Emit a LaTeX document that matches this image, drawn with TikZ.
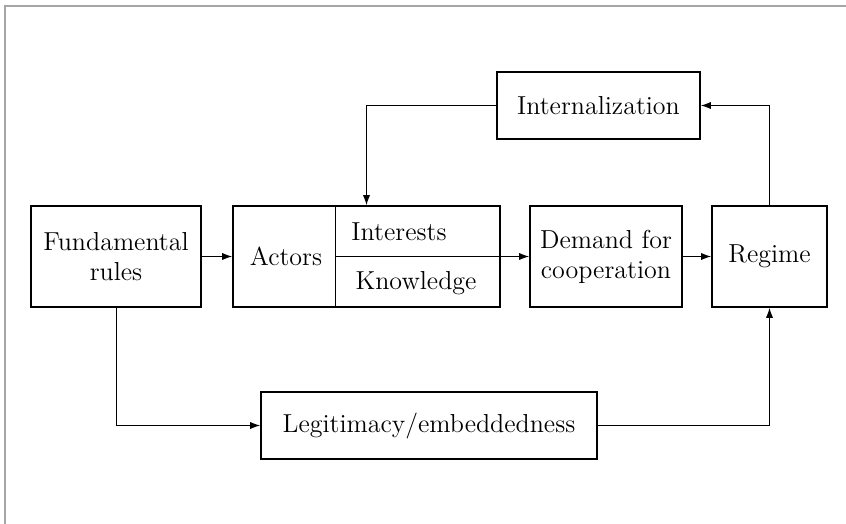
\documentclass[tikz,border=0pt]{standalone}
\usepackage{tikz}
\usetikzlibrary{arrows.meta}
\usetikzlibrary{positioning}

\begin{document}
\begin{tikzpicture}[x=0.5pt, y=-0.5pt, font=\fontsize{13}{15}\selectfont,
		box/.style={draw, line width=0.9pt, align=center, inner sep=0pt},
		arr/.style={line width=0.5pt, -{Latex[length=5pt,width=3.6pt]}}]
	\useasboundingbox (0,0) rectangle (846,524);
	\draw[gray!70, line width=0.6pt] (5,524) -- (5,6) -- (846,6);
	% boxes
	\node[box, minimum width=85pt, minimum height=50.5pt] (0) at (116, 256.5) {Fundamental\\rules};
	\node[box, minimum width=133.5pt, minimum height=50.5pt] (1) at (366.5, 256.5) {};
	\node[box, minimum width=76pt, minimum height=50.5pt] (2) at (606, 256.5) {Demand for\\cooperation};
	\node[box, minimum width=57.5pt, minimum height=50.5pt] (3) at (769.5, 256.5) {Regime};
	\node[box, minimum width=101.5pt, minimum height=33.5pt] (4) at (598.5, 105.5) {Internalization};
	\node[box, minimum width=168pt, minimum height=33.5pt] (5) at (429, 425.5) {Legitimacy/embeddedness};
	% inside the actors box
	\coordinate (d) at (335, 256.5);
	\node (a) at (286, 256.5) {Actors};
	\node (i) at (399, 232) {Interests};
	\node (k) at (416, 283) {Knowledge};
	\draw[line width=0.5pt] (d |- 1.north) -- (d |- 1.south);
	% arrows
	\draw[arr] (0) to (1);
	\draw[arr] (d) to (2.west);
	\draw[arr] (2) to (3);
	\draw[arr] (3.north) |- (4.east);
	\draw[arr] (4.west) -| (1.north);
	\draw[arr] (0.south) |- (5.west);
	\draw[arr] (5.east) -| (3.south);
\end{tikzpicture}
\end{document}
